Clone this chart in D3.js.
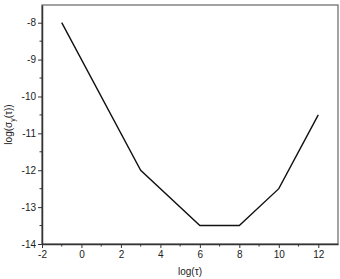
<!DOCTYPE html>
<html>
<head>
<meta charset="utf-8">
<script src="https://cdn.jsdelivr.net/npm/d3@7"></script>
<style>
  body { margin: 0; background: #fff; }
  text { font-family: "Liberation Sans", Arial, sans-serif; fill: #222; }
</style>
</head>
<body>
<div id="chart"></div>
<script>
var logTau = [-1, 3, 6, 8, 10, 12];
var logSigma = [-8, -12, -13.5, -13.5, -12.5, -10.5];
var xTicks = [-2, 0, 2, 4, 6, 8, 10, 12];
var yTicks = [-14, -13, -12, -11, -10, -9, -8];

var margin = { top: 5, right: 2, bottom: 35, left: 42 },
    width = 340 - margin.left - margin.right,
    height = 279 - margin.top - margin.bottom;

var svg = d3.select('#chart').append('svg')
    .attr('width', 340)
    .attr('height', 279)
  .append('g')
    .attr('transform', 'translate(' + margin.left + ',' + margin.top + ')');

var x = d3.scaleLinear().domain([-2, 13]).range([0, width]);
var y = d3.scaleLinear().domain([-14, -7.52]).range([height, 0]);

// frame
svg.append('rect')
    .attr('width', width).attr('height', height)
    .attr('fill', 'none').attr('stroke', '#666').attr('stroke-width', 1.2);

// minor ticks
var xMinor = d3.range(-1, 13, 2);
svg.append('g').selectAll('line').data(xMinor).join('line')
    .attr('x1', d => x(d)).attr('x2', d => x(d))
    .attr('y1', height).attr('y2', height + 2.5)
    .attr('stroke', '#333');
var yMinor = d3.range(-13.5, -7.5, 1);
svg.append('g').selectAll('line').data(yMinor).join('line')
    .attr('y1', d => y(d)).attr('y2', d => y(d))
    .attr('x1', 0).attr('x2', -2.5)
    .attr('stroke', '#333');

var xAxis = svg.append('g')
    .attr('transform', `translate(0, ${height})`)
    .call(d3.axisBottom(x).tickValues(xTicks).tickSize(4).tickPadding(3).tickSizeOuter(0));
var yAxis = svg.append('g')
    .call(d3.axisLeft(y).tickValues(yTicks).tickSize(4).tickPadding(2).tickSizeOuter(0)
      .tickFormat(d3.format('d')));

[xAxis, yAxis].forEach(function(a) {
  a.select('.domain').attr('stroke', '#333').attr('stroke-width', 1.5);
  a.selectAll('.tick line').attr('stroke', '#333');
  a.selectAll('text').style('font-size', '10px').attr('fill', '#222')
    .style('font-family', '"Liberation Sans", Arial, sans-serif');
});
yAxis.selectAll('text').text(d => '-' + Math.abs(d));
xAxis.selectAll('text').text(d => d < 0 ? '-' + Math.abs(d) : d);

var line = d3.line()
    .x((d, i) => x(logTau[i]))
    .y((d, i) => y(logSigma[i]));
svg.append('path')
    .datum(logTau)
    .attr('d', line)
    .attr('fill', 'none')
    .attr('stroke', '#111')
    .attr('stroke-width', 1.4);

svg.append('text')
    .attr('x', width / 2)
    .attr('y', height + 31)
    .attr('text-anchor', 'middle')
    .style('font-size', '10px')
    .text('log(τ)');

var yl = svg.append('text')
    .attr('transform', `translate(-30, ${height / 2}) rotate(-90)`)
    .attr('text-anchor', 'middle')
    .style('font-size', '10px');
yl.append('tspan').text('log(σ');
yl.append('tspan').attr('dy', 3).style('font-size', '7px').text('y');
yl.append('tspan').attr('dy', -3).text('(τ))');
</script>
</body>
</html>
